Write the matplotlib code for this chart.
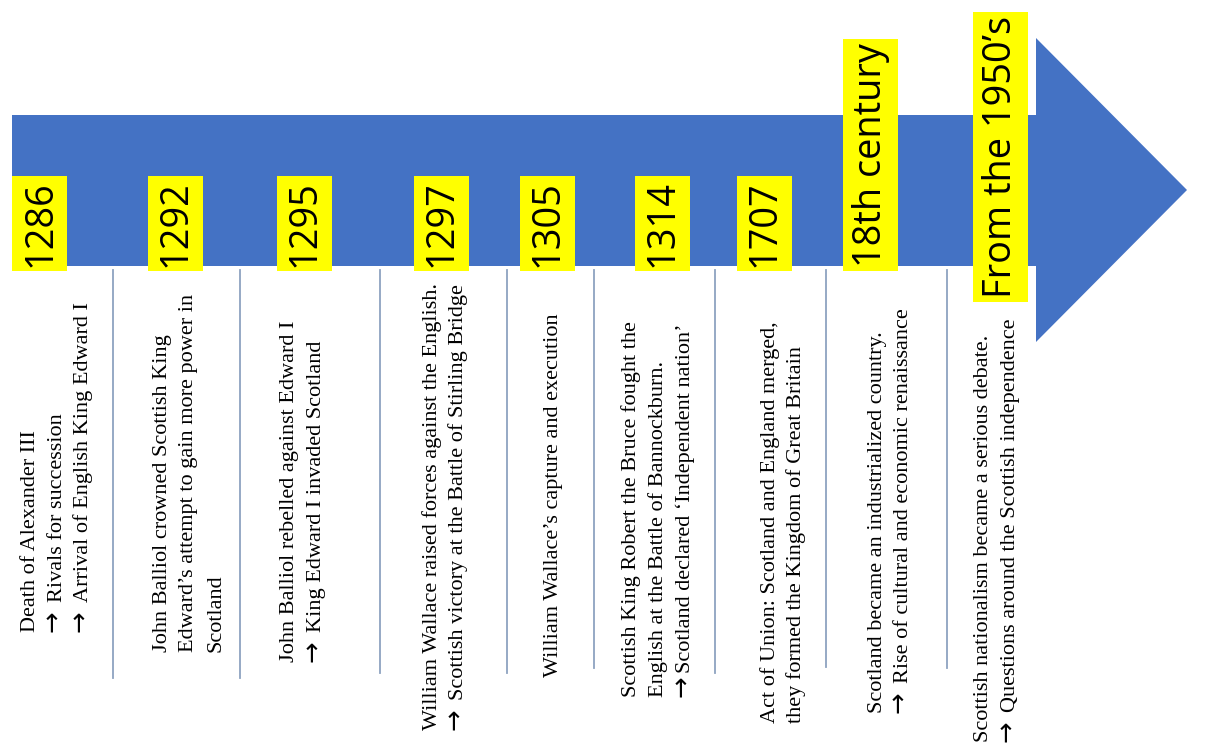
import matplotlib
matplotlib.use("Agg")
import matplotlib.pyplot as plt
from matplotlib.patches import Polygon, Rectangle

# ---------------- data ----------------
periods = ["1286", "1292", "1295", "1297", "1305", "1314", "1707",
           "18th century", "From the 1950\u2019s"]

descriptions = [
    ["Death of Alexander III",
     "\u2192 Rivals for succession",
     "\u2192 Arrival of English King Edward I"],
    ["John Balliol crowned Scottish King",
     "Edward\u2019s attempt to gain more power in",
     "Scotland"],
    ["John Balliol rebelled against Edward I",
     "\u2192 King Edward I invaded Scotland"],
    ["William Wallace raised forces against the English.",
     "\u2192 Scottish victory at the Battle of Stirling Bridge"],
    ["William Wallace\u2019s capture and execution"],
    ["Scottish King Robert the Bruce fought the",
     "English at the Battle of Bannockburn.",
     "\u2192Scotland declared \u2018Independent nation\u2019"],
    ["Act of Union: Scotland and England merged,",
     "they formed the Kingdom of Great Britain"],
    ["Scotland became an industrialized country.",
     "\u2192 Rise of cultural and economic renaissance"],
    ["Scottish nationalism became a serious debate.",
     "\u2192 Questions around the Scottish independence"],
]

# ---------------- layout (pixels) ----------------
W, H = 1209, 754
label_cx = [39.5, 175, 304, 441, 547, 662, 764, 870, 1000]
label_bottom = [267, 267, 267, 267, 267, 267, 267, 267, 298]
desc_x0 = [35, 167, 294, 437, 558, 636, 775, 882, 988]
desc_start = [632, 652, 662, 730, 677, 697, 723, 713, 742]
desc_step = [26.5, 26.5, 27, 26.5, 27, 27, 26, 25.5, 27]
sep_x = [113, 240, 380, 507, 594, 715, 826, 947]
sep_end = [678, 678, 673, 673, 668, 673, 667, 668]
sep_top = 270

BLUE = "#4472C4"
YELLOW = "#FFFF00"
SEP = "#8EA2C0"
SERIF = ["Liberation Serif", "DejaVu Serif"]
DESC_FS = 16
ARROW_FS = 18.5

fig = plt.figure(figsize=(W / 100, H / 100), dpi=100)
ax = fig.add_axes([0, 0, 1, 1])
ax.set_xlim(0, W)
ax.set_ylim(H, 0)
ax.axis("off")

# big arrow
shaft_l, shaft_t, shaft_b = 12, 115, 266
head_x, head_t, head_b, tip_x = 1036, 38, 342, 1187
tip_y = (head_t + head_b) / 2
arrow = Polygon([(shaft_l, shaft_t), (head_x, shaft_t), (head_x, head_t),
                 (tip_x, tip_y), (head_x, head_b), (head_x, shaft_b),
                 (shaft_l, shaft_b)], closed=True, fc=BLUE, ec="none", zorder=1)
ax.add_patch(arrow)

# separators
for x, ye in zip(sep_x, sep_end):
    ax.plot([x, x], [sep_top, ye], color=SEP, lw=1.3, zorder=1)

# period labels with yellow boxes
renderer = fig.canvas.get_renderer()
inv = ax.transData.inverted()
box_w = 55
for lab, cx, yb in zip(periods, label_cx, label_bottom):
    t = ax.text(cx + 1, yb, lab, rotation=90, rotation_mode="anchor",
                ha="left", va="center", fontsize=27.3, family="Open Sans",
                color="black", zorder=4)
    bb = t.get_window_extent(renderer)
    (x0, y0), (x1, y1) = inv.transform([(bb.x0, bb.y0), (bb.x1, bb.y1)])
    ytop, ybot = min(y0, y1), max(y0, y1)
    ax.add_patch(Rectangle((cx - box_w / 2, ytop - 4), box_w,
                           (ybot - ytop) + 8, fc=YELLOW, ec="none", zorder=3))

# descriptions
ARROW = "\u2192"
for lines, x0, ys, step in zip(descriptions, desc_x0, desc_start, desc_step):
    for i, line in enumerate(lines):
        x = x0 + i * step
        y = ys
        if line.startswith(ARROW):
            rest = line[1:]
            spaced = rest.startswith(" ")
            ta = ax.text(x - 1, y, ARROW, rotation=90, rotation_mode="anchor",
                         ha="left", va="baseline", fontsize=ARROW_FS,
                         family="DejaVu Sans", color="black", zorder=4)
            bb = ta.get_window_extent(renderer)
            y = y - bb.height - (8 if spaced else 2)
            line = rest.lstrip()
        ax.text(x, y, line, rotation=90, rotation_mode="anchor",
                ha="left", va="baseline", fontsize=DESC_FS,
                family=SERIF, color="black", zorder=4)

fig.savefig("out.png", dpi=100, facecolor="white")
